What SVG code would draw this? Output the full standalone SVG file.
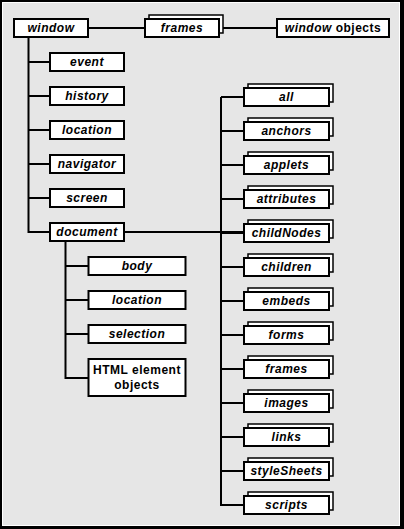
<svg xmlns="http://www.w3.org/2000/svg" width="404" height="529" viewBox="0 0 404 529">
<style>
.bx{fill:#fff;stroke:#000;stroke-width:2}
.bk{fill:#fff;stroke:#000;stroke-width:1.5}
.ln{stroke:#000;stroke-width:2;fill:none}
text{font-family:"Liberation Sans",Arial,Helvetica,sans-serif;font-weight:bold;font-size:12px;letter-spacing:0.5px;text-anchor:middle;fill:#000}
.i{font-style:italic}
</style>
<rect x="0" y="0" width="404" height="529" fill="#000"/>
<rect x="2" y="2" width="398" height="524" fill="#fff"/>
<rect x="3" y="3" width="396" height="522" fill="#e6e6e6"/>
<g id="connectors">
<path class="ln" d="M89 28H144M222 28H276"/>
<path class="ln" d="M28.5 38V232H49M28.5 62H49M28.5 96H49M28.5 130H49M28.5 164H49M28.5 198H49"/>
<path class="ln" d="M65.5 242V378H88M65.5 266H88M65.5 300H88M65.5 334H88"/>
<path class="ln" d="M125 232H243"/>
<path class="ln" d="M221 97V505H243M221 97H243M221 131H243M221 165H243M221 199H243M221 233H243M221 267H243M221 301H243M221 335H243M221 369H243M221 403H243M221 437H243M221 471H243"/>
</g>
<g id="window"><rect class="bx" x="14" y="19" width="74" height="18"/><text class="i" x="51" y="32">window</text></g>
<g id="frames"><rect class="bk" x="149" y="15" width="74" height="18"/><rect class="bx" x="145" y="19" width="74" height="18"/><text class="i" x="182" y="32">frames</text></g>
<g id="window-objects"><rect class="bx" x="277" y="19" width="112" height="18"/><text x="333" y="32"><tspan class="i">window</tspan> objects</text></g>
<g id="event"><rect class="bx" x="50" y="53" width="74" height="18"/><text class="i" x="87" y="66">event</text></g>
<g id="history"><rect class="bx" x="50" y="87" width="74" height="18"/><text class="i" x="87" y="100">history</text></g>
<g id="location"><rect class="bx" x="50" y="121" width="74" height="18"/><text class="i" x="87" y="134">location</text></g>
<g id="navigator"><rect class="bx" x="50" y="155" width="74" height="18"/><text class="i" x="87" y="168">navigator</text></g>
<g id="screen"><rect class="bx" x="50" y="189" width="74" height="18"/><text class="i" x="87" y="202">screen</text></g>
<g id="document"><rect class="bx" x="50" y="223" width="74" height="18"/><text class="i" x="87" y="236">document</text></g>
<g id="body"><rect class="bx" x="88.5" y="257" width="97" height="18"/><text class="i" x="137" y="270">body</text></g>
<g id="doc-location"><rect class="bx" x="88.5" y="291" width="97" height="18"/><text class="i" x="137" y="304">location</text></g>
<g id="selection"><rect class="bx" x="88.5" y="325" width="97" height="18"/><text class="i" x="137" y="338">selection</text></g>
<g id="html-element-objects"><rect class="bx" x="88.5" y="359" width="97" height="37"/><text x="137" y="374">HTML element</text><text x="137" y="389">objects</text></g>
<g id="all"><rect class="bk" x="248" y="84" width="85" height="18"/><rect class="bx" x="244" y="88" width="85" height="18"/><text class="i" x="286.5" y="101">all</text></g>
<g id="anchors"><rect class="bk" x="248" y="118" width="85" height="18"/><rect class="bx" x="244" y="122" width="85" height="18"/><text class="i" x="286.5" y="135">anchors</text></g>
<g id="applets"><rect class="bk" x="248" y="152" width="85" height="18"/><rect class="bx" x="244" y="156" width="85" height="18"/><text class="i" x="286.5" y="169">applets</text></g>
<g id="attributes"><rect class="bk" x="248" y="186" width="85" height="18"/><rect class="bx" x="244" y="190" width="85" height="18"/><text class="i" x="286.5" y="203">attributes</text></g>
<g id="childNodes"><rect class="bk" x="248" y="220" width="85" height="18"/><rect class="bx" x="244" y="224" width="85" height="18"/><text class="i" x="286.5" y="237">childNodes</text></g>
<g id="children"><rect class="bk" x="248" y="254" width="85" height="18"/><rect class="bx" x="244" y="258" width="85" height="18"/><text class="i" x="286.5" y="271">children</text></g>
<g id="embeds"><rect class="bk" x="248" y="288" width="85" height="18"/><rect class="bx" x="244" y="292" width="85" height="18"/><text class="i" x="286.5" y="305">embeds</text></g>
<g id="forms"><rect class="bk" x="248" y="322" width="85" height="18"/><rect class="bx" x="244" y="326" width="85" height="18"/><text class="i" x="286.5" y="339">forms</text></g>
<g id="doc-frames"><rect class="bk" x="248" y="356" width="85" height="18"/><rect class="bx" x="244" y="360" width="85" height="18"/><text class="i" x="286.5" y="373">frames</text></g>
<g id="images"><rect class="bk" x="248" y="390" width="85" height="18"/><rect class="bx" x="244" y="394" width="85" height="18"/><text class="i" x="286.5" y="407">images</text></g>
<g id="links"><rect class="bk" x="248" y="424" width="85" height="18"/><rect class="bx" x="244" y="428" width="85" height="18"/><text class="i" x="286.5" y="441">links</text></g>
<g id="styleSheets"><rect class="bk" x="248" y="458" width="85" height="18"/><rect class="bx" x="244" y="462" width="85" height="18"/><text class="i" x="286.5" y="475">styleSheets</text></g>
<g id="scripts"><rect class="bk" x="248" y="492" width="85" height="18"/><rect class="bx" x="244" y="496" width="85" height="18"/><text class="i" x="286.5" y="509">scripts</text></g>
</svg>
